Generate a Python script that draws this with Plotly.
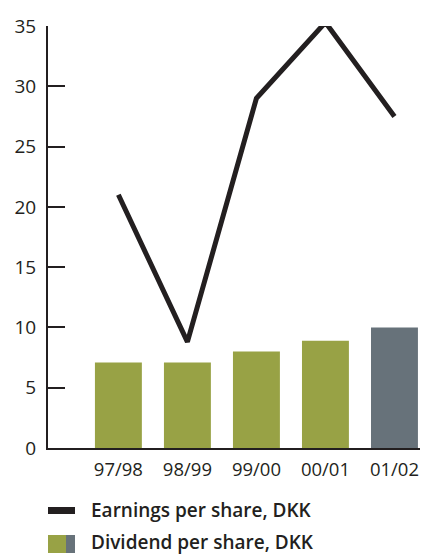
import plotly.graph_objects as go

categories = ["97/98", "98/99", "99/00", "00/01", "01/02"]
earnings = [21.0, 8.8, 29.0, 35.3, 27.5]
dividend = [7.1, 7.1, 8.0, 8.9, 10.0]
bar_colors = ["#98a245", "#98a245", "#98a245", "#98a245", "#67727a"]
y_ticks = [0, 5, 10, 15, 20, 25, 30, 35]
legend_labels = ["Earnings per share, DKK", "Dividend per share, DKK"]

W, H = 421, 555
L, R, T, B = 48, 1, 26, 107
PW, PH = W - L - R, H - T - B

def px(x):
    return (x - L) / PW

def py(y):
    return (H - B - y) / PH

ink = "#231f20"
font = "Open Sans"

fig = go.Figure()
fig.add_trace(go.Bar(x=categories, y=dividend, marker=dict(color=bar_colors, line=dict(width=0)),
                     width=0.68, showlegend=False, hoverinfo="skip"))
fig.add_trace(go.Scatter(x=categories, y=earnings, mode="lines",
                         line=dict(color=ink, width=5), cliponaxis=False,
                         showlegend=False, hoverinfo="skip"))

shapes = [
    dict(type="rect", xref="paper", yref="paper", x0=px(48), x1=px(75), y0=py(514), y1=py(507),
         fillcolor=ink, line=dict(width=0)),
    dict(type="rect", xref="paper", yref="paper", x0=px(48), x1=px(66), y0=py(553), y1=py(535),
         fillcolor=bar_colors[0], line=dict(width=0)),
    dict(type="rect", xref="paper", yref="paper", x0=px(66), x1=px(75), y0=py(553), y1=py(535),
         fillcolor=bar_colors[-1], line=dict(width=0)),
]
annotations = [
    dict(xref="paper", yref="paper", x=px(89), y=py(510), text=legend_labels[0], showarrow=False,
         xanchor="left", yanchor="middle", font=dict(family=font, size=19, color=ink, weight=600)),
    dict(xref="paper", yref="paper", x=px(89), y=py(542), text=legend_labels[1], showarrow=False,
         xanchor="left", yanchor="middle", font=dict(family=font, size=19, color=ink, weight=600)),
]

fig.update_layout(
    width=W, height=H,
    margin=dict(l=L, r=R, t=T, b=B, pad=0),
    paper_bgcolor="white", plot_bgcolor="white",
    font=dict(family=font, size=18, color=ink),
    shapes=shapes, annotations=annotations,
    bargap=0.3,
)
fig.update_xaxes(type="category", range=[-1.02, 4.37], showline=True, linecolor=ink, linewidth=2,
                 ticks="", showgrid=False, zeroline=False, ticklabelstandoff=4,
                 tickfont=dict(family=font, size=18.5, color=ink))
fig.update_yaxes(range=[0, 35], tickvals=y_ticks, showline=True, linecolor=ink, linewidth=2,
                 ticks="inside", ticklen=17, tickwidth=1.5, tickcolor=ink,
                 showgrid=False, zeroline=False, ticklabelstandoff=6,
                 tickfont=dict(family=font, size=19, color=ink))

fig.write_html("out.html")
